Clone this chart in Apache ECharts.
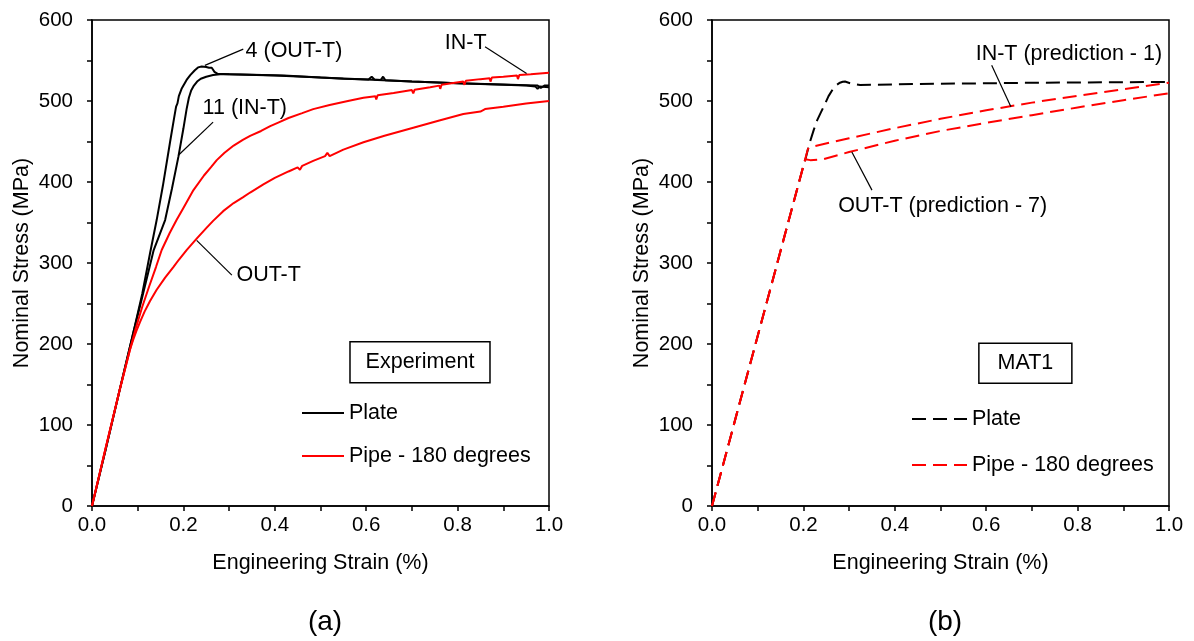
<!DOCTYPE html>
<html lang="en">
<head>
    <meta charset="UTF-8">
    <title>Stress-strain curves</title>
    <script src="https://cdn.jsdelivr.net/npm/echarts@6/dist/echarts.min.js"></script>
    <style>
        body { margin: 0; background: #fff; }
    </style>
</head>
<body>
    <div id="main" style="width: 1194px; height: 641px;"></div>
    <script>
        // (a) experiment, strain (%) vs nominal stress (MPa)
        const plateOutT = [[0, 0], [0.03, 70], [0.06, 142], [0.09, 213], [0.11, 262], [0.127, 312], [0.1415, 353], [0.155, 395],
            [0.171, 450], [0.18, 480], [0.184, 493], [0.187, 497], [0.19, 506], [0.196, 515], [0.207, 526], [0.215, 532],
            [0.225, 538], [0.232, 541.5], [0.24, 542.5], [0.25, 542], [0.256, 541], [0.262, 541], [0.268, 536], [0.275, 533.5],
            [0.3, 533], [0.35, 532.5], [0.42, 531.5], [0.5, 529], [0.55, 527.5], [0.605, 526.5], [0.612, 530], [0.618, 526.5],
            [0.632, 526], [0.637, 530], [0.642, 525.5], [0.7, 524], [0.8, 522], [0.9, 520.5], [0.95, 519.5], [0.975, 519],
            [0.982, 516], [0.99, 519], [1.0, 519]];
        const plateInT = [[0, 0], [0.03, 70], [0.06, 142], [0.09, 213], [0.11, 258], [0.135, 316], [0.16, 353], [0.175, 392],
            [0.189, 431], [0.2, 466], [0.207, 490], [0.212, 504], [0.217, 513], [0.223, 519], [0.23, 524], [0.238, 527.5],
            [0.25, 530], [0.265, 532], [0.28, 533], [0.3, 533], [0.4, 531.5], [0.5, 529], [0.6, 526.5], [0.7, 524],
            [0.8, 522], [0.9, 520], [0.95, 519], [0.97, 518], [0.975, 515], [0.98, 518], [1.0, 517]];
        const pipeInT = [[0, 0], [0.03, 72], [0.06, 142], [0.083, 193], [0.095, 218], [0.11, 246], [0.125, 271], [0.14, 295],
            [0.1525, 316], [0.17, 337], [0.185, 353], [0.2, 368], [0.222, 390], [0.245, 408], [0.26, 418], [0.273, 427],
            [0.29, 436], [0.31, 445], [0.33, 452], [0.346, 457], [0.37, 463], [0.39, 469], [0.41, 474], [0.43, 479],
            [0.46, 485], [0.484, 490], [0.52, 495], [0.56, 500], [0.594, 504], [0.62, 506], [0.622, 502], [0.625, 507],
            [0.66, 510], [0.7, 513.5], [0.703, 509.5], [0.706, 514], [0.74, 517], [0.76, 519], [0.762, 515], [0.765, 520],
            [0.8125, 524], [0.815, 520], [0.818, 525], [0.85, 527], [0.87, 528], [0.872, 524], [0.875, 529], [0.9, 530],
            [0.93, 531.5], [0.932, 527], [0.935, 532], [0.96, 533], [0.98, 534], [1.0, 535]];
        const pipeOutT = [[0, 0], [0.03, 72], [0.06, 142], [0.083, 193], [0.09, 205], [0.097, 216], [0.105, 227], [0.115, 240],
            [0.127, 253], [0.1415, 267], [0.16, 282], [0.178, 295], [0.19, 304], [0.207, 316], [0.229, 330], [0.25, 343],
            [0.265, 352], [0.287, 364], [0.31, 374], [0.33, 381], [0.346, 387], [0.375, 397], [0.4, 405], [0.43, 413],
            [0.45, 418], [0.455, 415], [0.46, 420], [0.484, 426], [0.51, 432], [0.515, 436], [0.52, 432], [0.55, 440],
            [0.594, 449], [0.64, 457], [0.703, 467], [0.76, 476], [0.8125, 484], [0.85, 487], [0.86, 490], [0.9, 493],
            [0.95, 497], [1.0, 500]];

        // (b) MAT1 predictions
        const platePred = [[0, 0], [0.2, 420], [0.204, 427], [0.208, 436], [0.213, 447], [0.218, 456], [0.2225, 464],
            [0.23, 476], [0.2375, 485], [0.2444, 493], [0.255, 506], [0.2655, 515.5], [0.273, 520], [0.28, 522.6],
            [0.286, 523.8], [0.291, 524], [0.305, 521.5], [0.324, 519.8], [0.455, 521], [0.7, 522.5], [1.0, 523.5]];
        const pipeInPred = [[0, 0], [0.21, 441], [0.2145, 443], [0.3, 454], [0.4, 466.5], [0.5, 478],
            [0.6, 488.5], [0.7, 498], [0.8, 506.5], [0.9, 514.5], [1.0, 522.5]];
        const pipeOutPred = [[0, 0], [0.204, 428], [0.215, 427], [0.243, 428], [0.3, 437], [0.4, 451],
            [0.5, 463], [0.6, 473], [0.7, 482.5], [0.8, 492], [0.9, 501], [1.0, 509.5]];

        const seriesNames = ['Plate', 'Pipe - 180 degrees'];
        const panelTags = ['(a)', '(b)'];
        const boxLabels = ['Experiment', 'MAT1'];

        // callouts, in data units of each panel
        const notes = [
            { grid: 0, text: '4 (OUT-T)', from: [0.247, 544], to: [0.331, 564], at: [0.336, 562] },
            { grid: 0, text: '11 (IN-T)', from: [0.189, 433], to: [0.265, 474], at: [0.242, 491] },
            { grid: 0, text: 'IN-T', from: [0.951, 534], to: [0.86, 567], at: [0.772, 571] },
            { grid: 0, text: 'OUT-T', from: [0.229, 328], to: [0.306, 285], at: [0.316, 285] },
            { grid: 1, text: 'IN-T (prediction - 1)', from: [0.654, 493], to: [0.612, 544], at: [0.577, 558] },
            { grid: 1, text: 'OUT-T (prediction - 7)', from: [0.306, 437], to: [0.35, 390], at: [0.276, 370] }
        ];
        const boxAt = [[0.7177, 177.5], [0.6857, 176.2]];

        const FONT = "'Liberation Sans', Arial, sans-serif";
        const TXT = 21.5;
        const DASH = [14, 7];

        const myChart = echarts.init(document.getElementById('main'));

        function makeX(i) {
            return {
                gridIndex: i, type: 'value', min: 0, max: 1, interval: 0.2,
                name: 'Engineering Strain (%)', nameLocation: 'middle', nameGap: 46,
                nameTextStyle: { color: '#000', fontSize: TXT, fontFamily: FONT },
                axisLine: { lineStyle: { color: '#000', width: 1.5 } },
                axisTick: { length: 5, lineStyle: { color: '#000', width: 1.5 } },
                minorTick: { show: true, splitNumber: 2, length: 5, lineStyle: { color: '#000', width: 1.5 } },
                splitLine: { show: false },
                axisLabel: { color: '#000', fontSize: 20.5, fontFamily: FONT, margin: 9, formatter: v => v.toFixed(1) }
            };
        }
        function makeY(i) {
            return {
                gridIndex: i, type: 'value', min: 0, max: 600, interval: 100,
                name: 'Nominal Stress (MPa)', nameLocation: 'middle', nameGap: 59,
                nameTextStyle: { color: '#000', fontSize: TXT, fontFamily: FONT },
                axisLine: { lineStyle: { color: '#000', width: 1.5 } },
                axisTick: { length: 5, lineStyle: { color: '#000', width: 1.5 } },
                minorTick: { show: true, splitNumber: 2, length: 5, lineStyle: { color: '#000', width: 1.5 } },
                splitLine: { show: false },
                axisLabel: { color: '#000', fontSize: 20.5, fontFamily: FONT, margin: 19 }
            };
        }
        function line(name, data, idx, color, dashed) {
            return {
                name: name, type: 'line', data: data, xAxisIndex: idx, yAxisIndex: idx,
                symbol: 'none', smooth: false, animation: false,
                lineStyle: { color: color, width: 2, type: dashed ? DASH : 'solid' },
                itemStyle: { color: color }
            };
        }
        function makeLegend(left, top, width, gap, dashed) {
            const dash = dashed ? DASH : 'solid';
            return {
                orient: 'vertical', left: left, top: top, padding: 0,
                itemWidth: width, itemHeight: 14, itemGap: gap,
                selectedMode: false,
                textStyle: { color: '#000', fontSize: TXT, fontFamily: FONT },
                data: [
                    { name: seriesNames[0], itemStyle: { opacity: 0 }, lineStyle: { color: '#000', width: 2, type: dash } },
                    { name: seriesNames[1], itemStyle: { opacity: 0 }, lineStyle: { color: '#ff0000', width: 2, type: dash } }
                ]
            };
        }

        const gridBase = { top: 20, width: 457, height: 486, show: true, borderColor: '#000', borderWidth: 1.5 };

        myChart.setOption({
            backgroundColor: '#fff',
            textStyle: { fontFamily: FONT },
            grid: [Object.assign({ left: 92 }, gridBase), Object.assign({ left: 712 }, gridBase)],
            xAxis: [makeX(0), makeX(1)],
            yAxis: [makeY(0), makeY(1)],
            legend: [makeLegend(301, 402, 42, 21, false), makeLegend(911, 408, 55, 24, true)],
            series: [
                line(seriesNames[0], plateOutT, 0, '#000', false),
                line(seriesNames[0], plateInT, 0, '#000', false),
                line(seriesNames[1], pipeInT, 0, '#ff0000', false),
                line(seriesNames[1], pipeOutT, 0, '#ff0000', false),
                line(seriesNames[0], platePred, 1, '#000', true),
                line(seriesNames[1], pipeInPred, 1, '#ff0000', true),
                line(seriesNames[1], pipeOutPred, 1, '#ff0000', true)
            ]
        });

        // callouts, label boxes and panel tags placed through the axes
        function px(g, pt) {
            return myChart.convertToPixel({ xAxisIndex: g, yAxisIndex: g }, pt);
        }
        const graphics = [];
        notes.forEach(n => {
            const a = px(n.grid, n.from), b = px(n.grid, n.to), t = px(n.grid, n.at);
            graphics.push({
                type: 'line', z: 50,
                shape: { x1: a[0], y1: a[1], x2: b[0], y2: b[1] },
                style: { stroke: '#000', lineWidth: 1.2 }
            });
            graphics.push({
                type: 'text', z: 50, x: t[0], y: t[1],
                style: { text: n.text, fill: '#000', fontSize: TXT, fontFamily: FONT, align: 'left', verticalAlign: 'middle' }
            });
        });
        const boxSize = [[140, 41], [93, 40]];
        boxLabels.forEach((label, g) => {
            const c = px(g, boxAt[g]);
            const w = boxSize[g][0], h = boxSize[g][1];
            graphics.push({
                type: 'rect', z: 50,
                shape: { x: c[0] - w / 2, y: c[1] - h / 2, width: w, height: h },
                style: { fill: '#fff', stroke: '#000', lineWidth: 1.5 }
            });
            graphics.push({
                type: 'text', z: 51, x: c[0], y: c[1],
                style: { text: label, fill: '#000', fontSize: TXT, fontFamily: FONT, align: 'center', verticalAlign: 'middle' }
            });
        });
        panelTags.forEach((tag, g) => {
            const c = px(g, [0.51, 0]);
            graphics.push({
                type: 'text', z: 50, x: c[0], y: 622,
                style: { text: tag, fill: '#000', fontSize: 28, fontFamily: FONT, align: 'center', verticalAlign: 'middle' }
            });
        });
        myChart.setOption({ graphic: graphics });
    </script>
</body>
</html>
